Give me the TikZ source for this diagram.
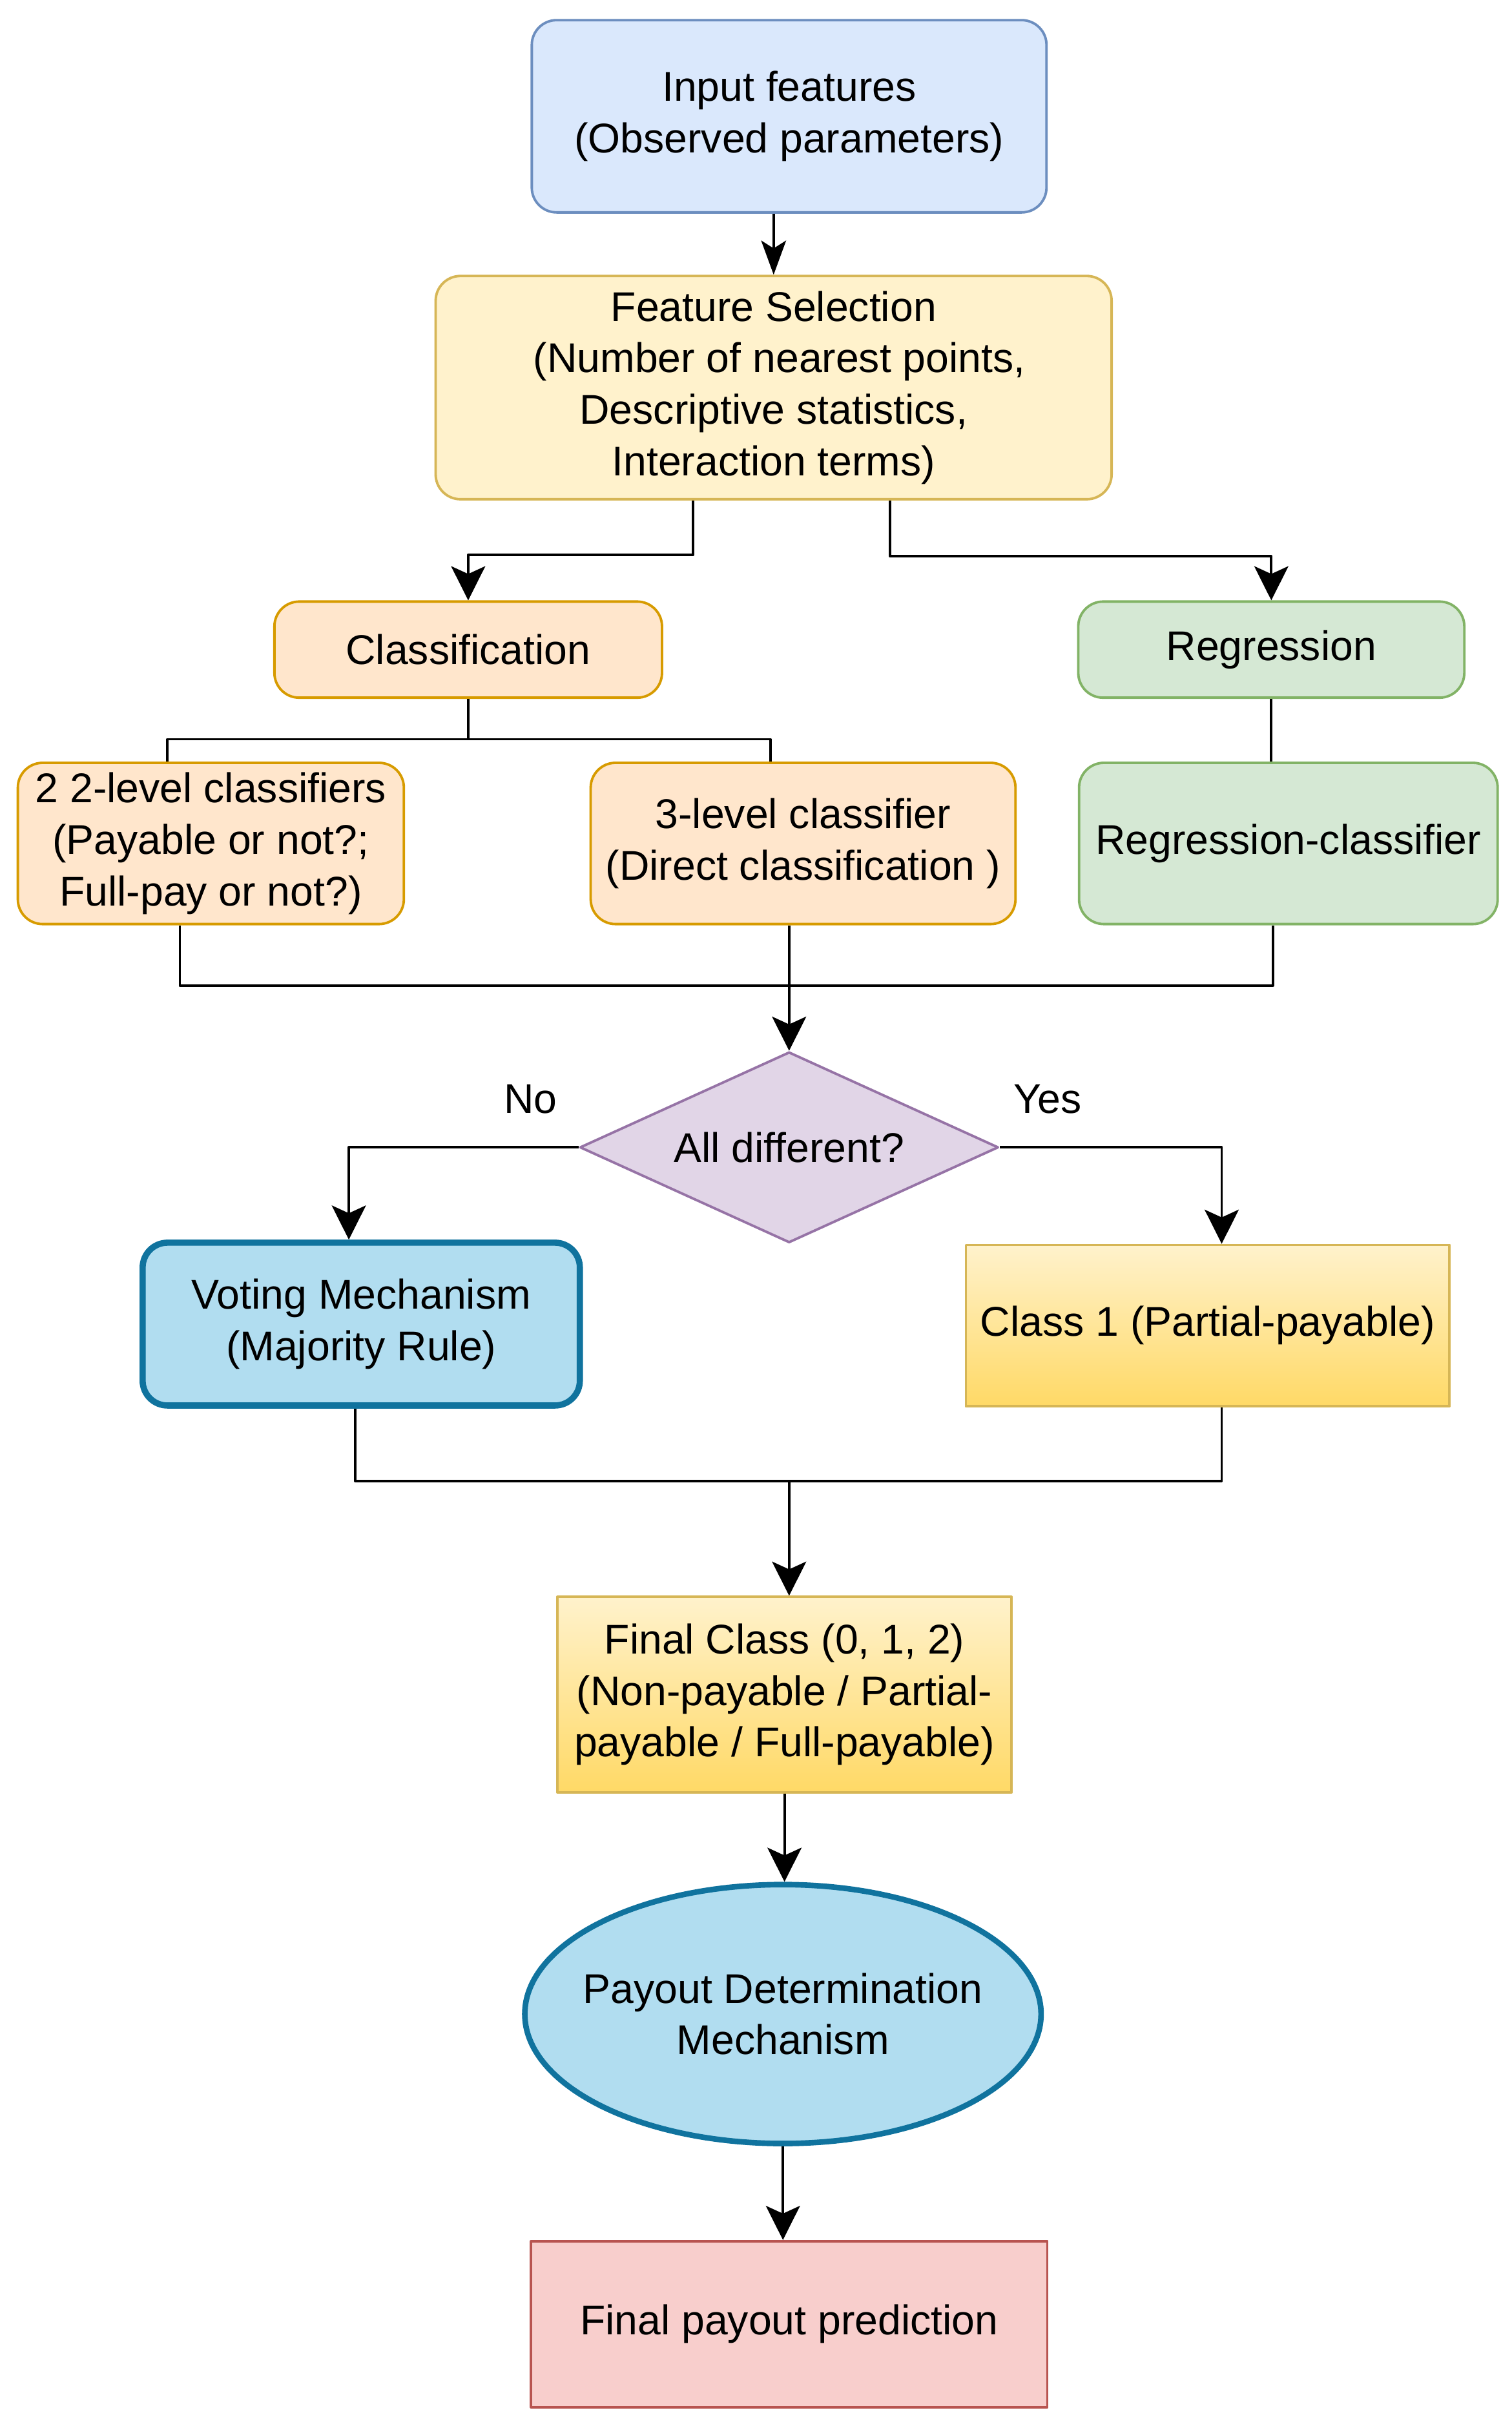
\documentclass[tikz,border=0pt]{standalone}
\usepackage{fontspec}
\setmainfont{Liberation Sans}
\usetikzlibrary{shapes.geometric,arrows.meta,positioning}
\definecolor{inputfill}{HTML}{DAE8FC}
\definecolor{inputdraw}{HTML}{6C8EBF}
\definecolor{selfill}{HTML}{FFF2CC}
\definecolor{seldraw}{HTML}{D6B656}
\definecolor{clsfill}{HTML}{FFE6CC}
\definecolor{clsdraw}{HTML}{D79B00}
\definecolor{regfill}{HTML}{D5E8D4}
\definecolor{regdraw}{HTML}{82B366}
\definecolor{decfill}{HTML}{E1D5E7}
\definecolor{decdraw}{HTML}{9673A6}
\definecolor{votefill}{HTML}{B1DDF0}
\definecolor{votedraw}{HTML}{10739E}
\definecolor{goldend}{HTML}{FFD966}
\definecolor{predfill}{HTML}{F8CECC}
\definecolor{preddraw}{HTML}{B85450}
\begin{document}
\begin{tikzpicture}[x=0.5pt, y=-0.5pt, line join=round, >={Stealth[length=11pt,width=11pt,inset=2.5pt]}]

		\tikzset{box/.style={draw, line width=0.8pt, align=center, inner sep=2pt,
				font=\fontsize{13.4}{16.6}\selectfont},
			rbox/.style={box, rounded corners=8pt},
			goldbox/.style={box, draw=seldraw, top color=selfill, bottom color=goldend},
			conn/.style={line width=0.8pt},
			lbl/.style={font=\fontsize{13.4}{16.6}\selectfont}}

		\useasboundingbox (0,0) rectangle (975,1566);

		\node[rbox, fill=inputfill, draw=inputdraw, minimum width=166pt, minimum height=62pt] (input) at (509,75) {Input features\\(Observed parameters)};
		\node[rbox, fill=selfill, draw=seldraw, minimum width=218pt, minimum height=72pt] (fs) at (499,250) {Feature Selection\\\ (Number of nearest points,\\Descriptive statistics,\\Interaction terms)};
		\node[rbox, fill=clsfill, draw=clsdraw, minimum width=125pt, minimum height=31pt] (cls) at (302,419) {Classification};
		\node[rbox, fill=regfill, draw=regdraw, minimum width=124.5pt, minimum height=31pt] (reg) at (820,419) {Regression};
		\node[rbox, fill=clsfill, draw=clsdraw, minimum width=124.5pt, minimum height=52pt] (two) at (136,544) {2 2-level classifiers\\(Payable or not?;\\Full-pay or not?)};
		\node[rbox, fill=clsfill, draw=clsdraw, minimum width=137pt, minimum height=52pt] (three) at (518,544) {3-level classifier\\(Direct classification )};
		\node[rbox, fill=regfill, draw=regdraw, minimum width=135pt, minimum height=52pt] (regc) at (831,544) {Regression-classifier};
		\node[box, diamond, aspect=2.2, inner sep=0pt, fill=decfill, draw=decdraw, minimum width=135pt, minimum height=61.5pt] (dec) at (509,740) {All different?};
		\node[rbox, fill=votefill, draw=votedraw, line width=2pt, minimum width=141pt, minimum height=52.5pt] (vote) at (233,854) {Voting Mechanism\\(Majority Rule)};
		\node[goldbox, minimum width=156pt, minimum height=52pt] (cone) at (779,855) {Class 1 (Partial-payable)};
		\node[goldbox, minimum width=146.5pt, minimum height=63pt] (final) at (506,1093) {Final Class (0, 1, 2)\\(Non-payable / Partial-\\payable / Full-payable)};
		\node[box, ellipse, inner sep=-8pt, fill=votefill, draw=votedraw, line width=1.8pt, minimum width=166.5pt, minimum height=83.5pt] (payout) at (505,1299) {Payout Determination\\Mechanism};
		\node[box, fill=predfill, draw=preddraw, minimum width=166.5pt, minimum height=53.5pt] (pred) at (509,1499) {Final payout prediction};

		\node[lbl] (no) at ([xshift=-15.5pt,yshift=15.5pt]dec.west) {No};
		\node[lbl] (yes) at ([xshift=15.5pt,yshift=15.5pt]dec.east) {Yes};

		\coordinate (clsj) at ([yshift=-13pt]cls.south);
		\coordinate (mrg) at ([yshift=21pt]dec.north);
		\coordinate (mrg2) at ([xshift=1.5pt,yshift=37pt]final.north);

		\draw[conn,-{Stealth[length=11pt,width=8pt,inset=2.5pt]}] (input.south -| fs.north) -- (fs.north);
		\draw[conn,->] ([xshift=-26pt]fs.south) -- ++(0,35) -| (cls.north);
		\draw[conn,->] ([xshift=37.5pt]fs.south) -- ++(0,36) -| (reg.north);
		\draw[conn] (cls.south) -- (clsj);
		\draw[conn] ([xshift=-14pt]two.north) |- (clsj) -| ([xshift=-10.5pt]three.north);
		\draw[conn] (reg.south) -- (reg.south |- regc.north);
		\draw[conn] ([xshift=-10pt]two.south) |- (mrg) -| ([xshift=-5pt]regc.south);
		\draw[conn,->] (three.south -| dec.north) -- (dec.north);
		\draw[conn,->] (dec.west) -| ([xshift=-4pt]vote.north);
		\draw[conn,->] (dec.east) -| ([xshift=4.5pt]cone.north);
		\draw[conn] ([xshift=-2pt]vote.south) |- (mrg2) -| ([xshift=4.5pt]cone.south);
		\draw[conn,->] (mrg2) -- (mrg2 |- final.north);
		\draw[conn,->] (final.south) -- (final.south |- payout.north);
		\draw[conn,->] (payout.south) -- (payout.south |- pred.north);
	\end{tikzpicture}
\end{document}
